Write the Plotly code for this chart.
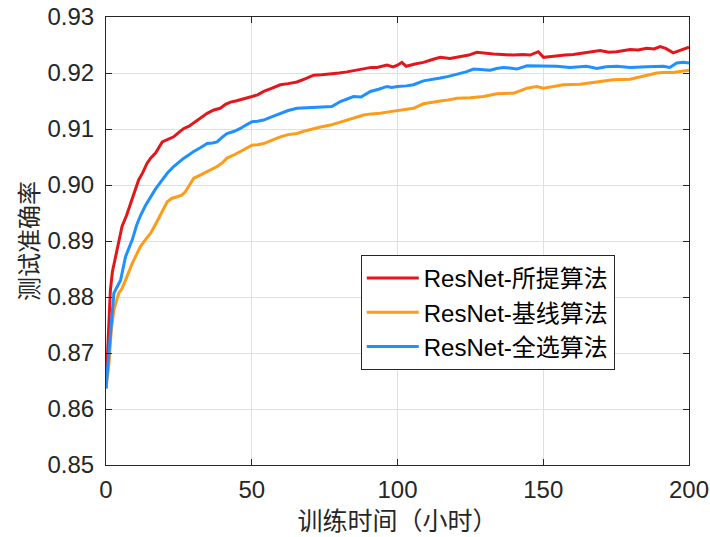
import plotly.graph_objects as go

# Test accuracy vs. training time (hours) for three ResNet selection strategies
series_names = ["ResNet-所提算法", "ResNet-基线算法", "ResNet-全选算法"]
series_colors = ["#E3171B", "#FF9B1A", "#1E90FF"]

hours_proposed = [0, 0.5, 1, 1.5, 2.2, 3.3, 4.3, 5.5, 7, 8.4, 9.8, 11.2, 12.6, 14.1, 15.3, 17,
                  19.3, 21, 23.2, 25, 26.7, 28.5, 30.7, 32.5, 34.7, 37, 39.2, 41, 42.7, 44.5,
                  46.1, 48, 50.1, 52, 54.1, 57, 59.8, 62.5, 65.5, 68.5, 71.2, 74, 77, 80, 82.7,
                  85.5, 88.4, 91, 93, 96.4, 98.5, 100, 101.5, 103, 106, 108.9, 112, 114.7, 118,
                  121.5, 124.5, 127.2, 130, 132.9, 136, 139.8, 143, 145.5, 148.3, 150.1, 152,
                  154.6, 157.5, 160.3, 164.9, 169.5, 172.5, 175.2, 179.8, 182.5, 185.5, 188,
                  190.1, 192, 194.6, 197, 200]
acc_proposed = [0.8637, 0.8700, 0.8765, 0.8812, 0.8845, 0.8872, 0.8900, 0.8926, 0.8945, 0.8967,
                0.8990, 0.9009, 0.9022, 0.9039, 0.9048, 0.9057, 0.9077, 0.9081, 0.9086, 0.9094,
                0.9101, 0.9105, 0.9113, 0.9120, 0.9128, 0.9134, 0.9137, 0.9144, 0.9148, 0.9150,
                0.9152, 0.9155, 0.9158, 0.9161, 0.9167, 0.9173, 0.9179, 0.9181, 0.9184, 0.9190,
                0.9196, 0.9197, 0.9198, 0.9200, 0.9202, 0.9205, 0.9208, 0.9210, 0.9210, 0.9214,
                0.9211, 0.9214, 0.9219, 0.9212, 0.9216, 0.9219, 0.9224, 0.9228, 0.9226, 0.9229,
                0.9232, 0.9237, 0.9235, 0.9234, 0.9233, 0.9232, 0.9233, 0.9232, 0.9238, 0.9228,
                0.9229, 0.9231, 0.9232, 0.9233, 0.9236, 0.9240, 0.9237, 0.9238, 0.9242, 0.9241,
                0.9244, 0.9243, 0.9247, 0.9244, 0.9236, 0.9241, 0.9246]

hours_baseline = [0, 1, 1.8, 2.7, 4.4, 5.5, 6.7, 8, 9, 10.5, 11.8, 13.5, 15.3, 17, 18.4, 19.5,
                  21, 22.5, 24.4, 26, 27.2, 28.7, 30.1, 32.5, 34.7, 36.5, 38.1, 40, 41.5, 44,
                  46.1, 48, 50.1, 52, 54.1, 57, 59.8, 62.5, 65.5, 68.5, 71.2, 74, 77, 80, 82.7,
                  85.5, 88.4, 91, 94.1, 97.5, 100, 103, 105.5, 108.9, 112, 114.7, 117.5, 120.4,
                  124.9, 129.5, 134.1, 139.8, 142, 144.4, 147.8, 150, 153.5, 156.9, 162.6,
                  168.4, 174, 179.8, 184.3, 188.9, 191.2, 194.6, 197.5, 200]
acc_baseline = [0.8637, 0.8680, 0.8740, 0.8777, 0.8807, 0.8815, 0.8830, 0.8848, 0.8860, 0.8876,
                0.8890, 0.8902, 0.8914, 0.8930, 0.8943, 0.8955, 0.8970, 0.8976, 0.8979, 0.8982,
                0.8988, 0.9000, 0.9012, 0.9018, 0.9024, 0.9028, 0.9033, 0.9040, 0.9048, 0.9054,
                0.9060, 0.9066, 0.9071, 0.9072, 0.9074, 0.9080, 0.9086, 0.9090, 0.9092, 0.9097,
                0.9101, 0.9104, 0.9107, 0.9112, 0.9116, 0.9120, 0.9125, 0.9127, 0.9128, 0.9131,
                0.9133, 0.9135, 0.9137, 0.9145, 0.9147, 0.9150, 0.9152, 0.9155, 0.9156, 0.9158,
                0.9163, 0.9164, 0.9168, 0.9173, 0.9176, 0.9173, 0.9176, 0.9179, 0.9180, 0.9184,
                0.9188, 0.9189, 0.9194, 0.9200, 0.9201, 0.9201, 0.9203, 0.9205]

hours_full = [0, 0.7, 1.5, 2.7, 4, 5, 6.7, 8, 9, 10.5, 11.8, 13.5, 15.3, 17, 19.3, 21, 23.2,
              25, 26.7, 28.5, 30.1, 32.5, 34.7, 36.5, 38.1, 40, 41.5, 44, 46.1, 48, 50.1, 52,
              54.1, 57, 59.8, 62.5, 65.5, 68.5, 71.2, 74, 77.5, 80.4, 82.7, 84.9, 87.5, 90.7,
              93.5, 96.4, 98, 100, 103, 105.5, 108.9, 112, 114.7, 117.5, 120.4, 123.5, 126.1,
              129, 131.8, 134, 136.3, 138.5, 140.9, 144.4, 148.9, 150, 154.6, 159.2, 164.9,
              168.4, 171.5, 175.2, 179.8, 185.5, 191.2, 193.4, 195.8, 198, 200]
acc_full = [0.8637, 0.8680, 0.8729, 0.8807, 0.8820, 0.8830, 0.8872, 0.8890, 0.8902, 0.8928,
            0.8945, 0.8963, 0.8979, 0.8993, 0.9009, 0.9021, 0.9033, 0.9041, 0.9048, 0.9054,
            0.9060, 0.9067, 0.9074, 0.9075, 0.9077, 0.9086, 0.9092, 0.9096, 0.9101, 0.9107,
            0.9113, 0.9114, 0.9116, 0.9122, 0.9128, 0.9133, 0.9137, 0.9138, 0.9139, 0.9140,
            0.9140, 0.9149, 0.9154, 0.9158, 0.9157, 0.9167, 0.9171, 0.9176, 0.9174, 0.9176,
            0.9177, 0.9179, 0.9186, 0.9188, 0.9191, 0.9194, 0.9198, 0.9202, 0.9207, 0.9206,
            0.9205, 0.9208, 0.9210, 0.9209, 0.9207, 0.9213, 0.9213, 0.9212, 0.9212, 0.9210,
            0.9212, 0.9208, 0.9211, 0.9212, 0.9210, 0.9211, 0.9212, 0.9210, 0.9218, 0.9219,
            0.9218]

x_ticks = [0, 50, 100, 150, 200]
y_ticks = [0.85, 0.86, 0.87, 0.88, 0.89, 0.90, 0.91, 0.92, 0.93]

AX = "#262626"
GRID = "#E0E0E0"
LATIN = "Liberation Sans, Arial, sans-serif"
CJK = "Noto Sans CJK SC, sans-serif"

fig = go.Figure()
for name, color, xs, ys in zip(series_names, series_colors,
                               [hours_proposed, hours_baseline, hours_full],
                               [acc_proposed, acc_baseline, acc_full]):
    fig.add_trace(go.Scatter(x=xs, y=ys, mode="lines", name=name,
                             line=dict(color=color, width=3)))

axis_common = dict(
    showline=True, linecolor=AX, linewidth=1, mirror="ticks",
    ticks="inside", ticklen=6, tickcolor=AX, tickwidth=1,
    showgrid=True, gridcolor=GRID, gridwidth=1, zeroline=False,
    tickfont=dict(family=LATIN, size=24, color=AX),
)

fig.update_xaxes(range=[0, 200], tickvals=x_ticks, ticktext=[str(v) for v in x_ticks],
                 ticklabelstandoff=3,
                 title=dict(text="训练时间（小时）", font=dict(family=CJK, size=25, color=AX),
                            standoff=4),
                 **axis_common)
fig.update_yaxes(range=[0.85, 0.93], tickvals=y_ticks, ticktext=[f"{v:.2f}" for v in y_ticks],
                 ticklabelstandoff=6,
                 title=dict(text="测试准确率", font=dict(family=CJK, size=24, color=AX),
                            standoff=2),
                 **axis_common)

fig.update_layout(
    width=710, height=537,
    margin=dict(l=106, r=21, t=17, b=72, autoexpand=False),
    paper_bgcolor="white", plot_bgcolor="white",
    showlegend=True,
    legend=dict(x=0.437, y=0.469, xanchor="left", yanchor="top",
                bgcolor="white", bordercolor=AX, borderwidth=1,
                font=dict(family=LATIN + ", " + CJK, size=24, color="black"),
                tracegroupgap=0, itemwidth=52),
)

fig.write_html("out.html")
